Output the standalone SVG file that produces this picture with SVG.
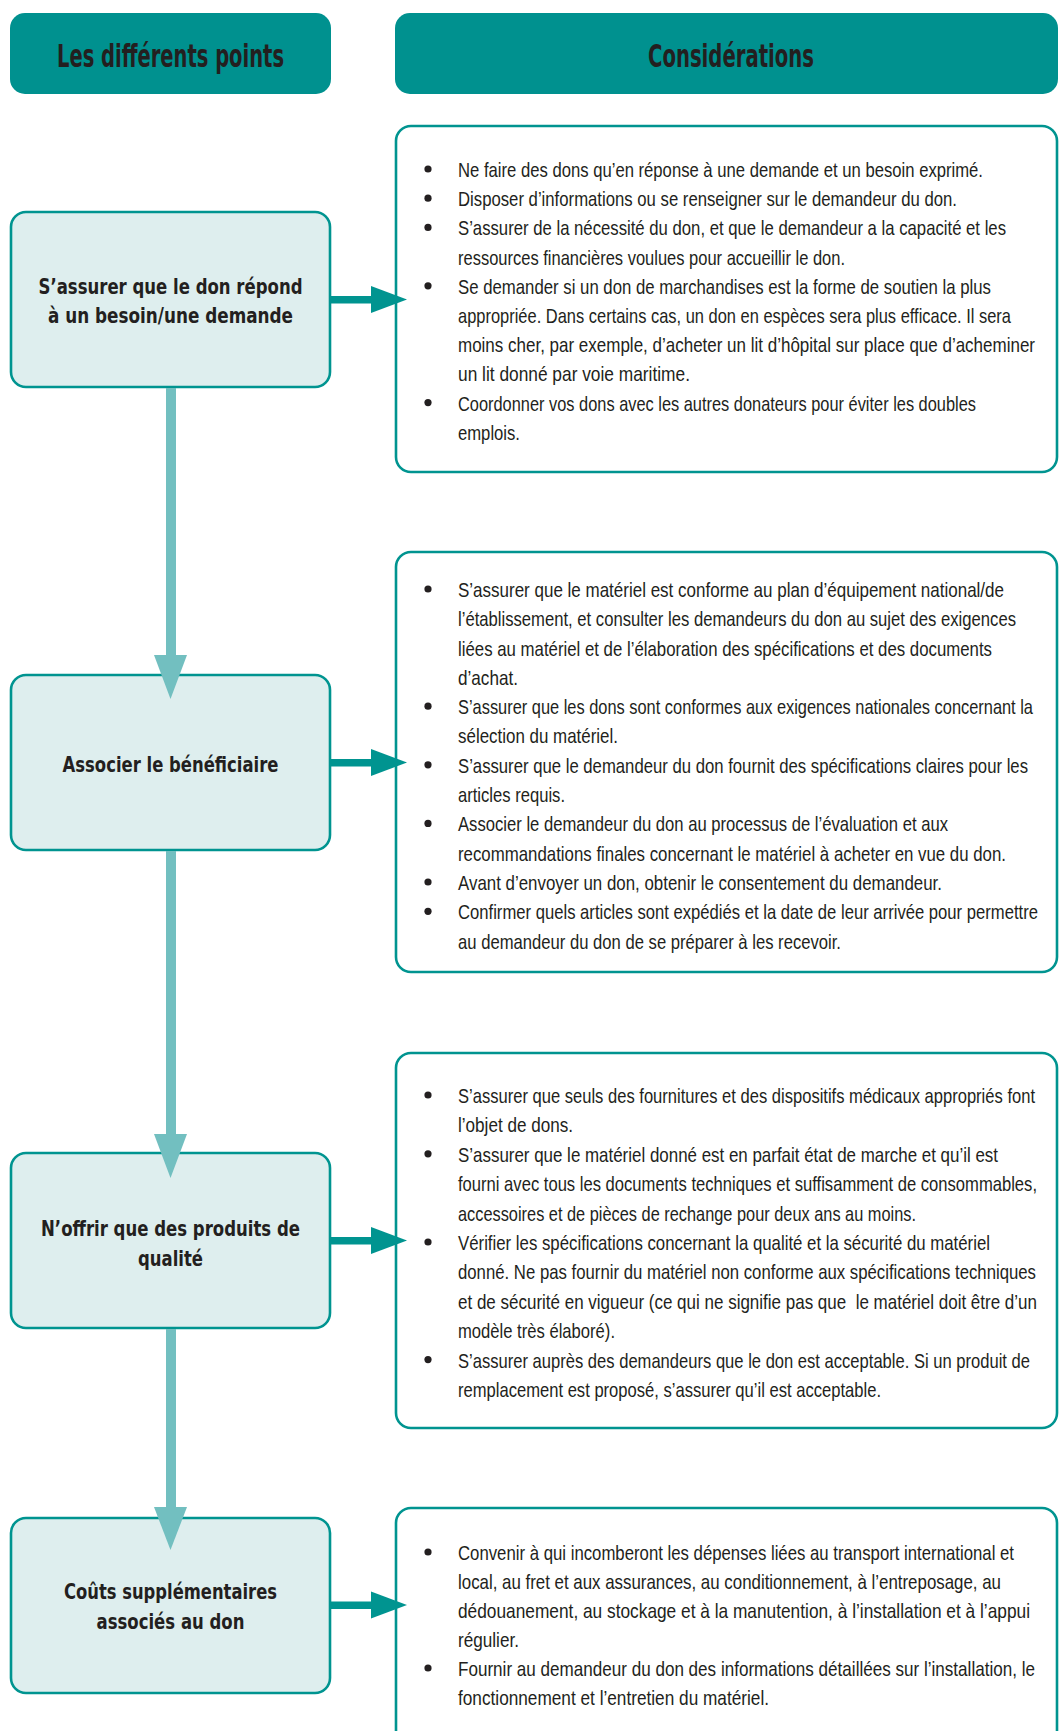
<svg xmlns="http://www.w3.org/2000/svg" width="1059" height="1731" viewBox="0 0 1059 1731">
  <style>
    .hdr { fill: #00918f; }
    .hdr-txt { font-family: "DejaVu Sans Condensed", "Liberation Sans", Arial, sans-serif; font-stretch: condensed; font-weight: bold; font-size: 32px; fill: #231f20; text-anchor: middle; }
    .step { fill: #deeeee; stroke: #009490; stroke-width: 2.6; }
    .step-txt { font-family: "DejaVu Sans Condensed", "Liberation Sans", Arial, sans-serif; font-stretch: condensed; font-weight: bold; font-size: 22px; fill: #231f20; text-anchor: middle; }
    .panel { fill: #ffffff; stroke: #009490; stroke-width: 2.6; }
    .body { font-family: "Liberation Sans", Arial, sans-serif; font-size: 20.5px; fill: #231f20; }
    .dot { fill: #231f20; }
    .down { fill: #72bfc0; }
    .right { fill: #009490; }
  </style>

  <!-- Column headers (labels narrowed horizontally around their centre) -->
  <g id="header-points">
    <rect class="hdr" x="10" y="13" width="321" height="81" rx="15"/>
    <g transform="matrix(0.7 0 0 1 51.15 0)">
      <text class="hdr-txt" x="170.5" y="67" textLength="324.29" lengthAdjust="spacingAndGlyphs">Les différents points</text>
    </g>
  </g>
  <g id="header-considerations">
    <rect class="hdr" x="395" y="13" width="663" height="81" rx="15"/>
    <g transform="matrix(0.7 0 0 1 219.3 0)">
      <text class="hdr-txt" x="731" y="67" textLength="237.14" lengthAdjust="spacingAndGlyphs">Considérations</text>
    </g>
  </g>

  <!-- Steps (left column) -->
  <g id="step-besoin">
    <rect class="step" x="11" y="212" width="319" height="175" rx="15"/>
    <g transform="matrix(0.7 0 0 1 51.15 0)">
      <text class="step-txt" x="170.5" y="294" textLength="377.14" lengthAdjust="spacingAndGlyphs">S’assurer que le don répond</text>
      <text class="step-txt" x="170.5" y="323" textLength="350" lengthAdjust="spacingAndGlyphs">à un besoin/une demande</text>
    </g>
  </g>
  <g id="step-beneficiaire">
    <rect class="step" x="11" y="675" width="319" height="175" rx="15"/>
    <g transform="matrix(0.7 0 0 1 51.15 0)">
      <text class="step-txt" x="170.5" y="772" textLength="308.57" lengthAdjust="spacingAndGlyphs">Associer le bénéficiaire</text>
    </g>
  </g>
  <g id="step-qualite">
    <rect class="step" x="11" y="1153" width="319" height="175" rx="15"/>
    <g transform="matrix(0.7 0 0 1 51.15 0)">
      <text class="step-txt" x="170.5" y="1236" textLength="370" lengthAdjust="spacingAndGlyphs">N’offrir que des produits de</text>
      <text class="step-txt" x="170.5" y="1266" textLength="92.86" lengthAdjust="spacingAndGlyphs">qualité</text>
    </g>
  </g>
  <g id="step-couts">
    <rect class="step" x="11" y="1518" width="319" height="175" rx="15"/>
    <g transform="matrix(0.7 0 0 1 51.15 0)">
      <text class="step-txt" x="170.5" y="1599" textLength="304.29" lengthAdjust="spacingAndGlyphs">Coûts supplémentaires</text>
      <text class="step-txt" x="170.5" y="1629" textLength="211.43" lengthAdjust="spacingAndGlyphs">associés au don</text>
    </g>
  </g>

  <!-- Considerations (right column); bullet text narrowed from its left edge x=458 -->
  <g id="panel-besoin">
    <rect class="panel" x="396" y="126" width="661" height="346" rx="15"/>
    <circle class="dot" cx="428" cy="169" r="3.6"/>
    <circle class="dot" cx="428" cy="198.2" r="3.6"/>
    <circle class="dot" cx="428" cy="227.4" r="3.6"/>
    <circle class="dot" cx="428" cy="285.8" r="3.6"/>
    <circle class="dot" cx="428" cy="402.6" r="3.6"/>
    <g transform="matrix(0.7 0 0 1 137.4 0)">
      <text class="body" x="458" y="177" textLength="750" lengthAdjust="spacingAndGlyphs">Ne faire des dons qu’en réponse à une demande et un besoin exprimé.</text>
      <text class="body" x="458" y="206.2" textLength="712.86" lengthAdjust="spacingAndGlyphs">Disposer d’informations ou se renseigner sur le demandeur du don.</text>
      <text class="body" x="458" y="235.4" textLength="782.86" lengthAdjust="spacingAndGlyphs">S’assurer de la nécessité du don, et que le demandeur a la capacité et les</text>
      <text class="body" x="458" y="264.6" textLength="552.86" lengthAdjust="spacingAndGlyphs">ressources financières voulues pour accueillir le don.</text>
      <text class="body" x="458" y="293.8" textLength="761.43" lengthAdjust="spacingAndGlyphs">Se demander si un don de marchandises est la forme de soutien la plus</text>
      <text class="body" x="458" y="323" textLength="790" lengthAdjust="spacingAndGlyphs">appropriée. Dans certains cas, un don en espèces sera plus efficace. Il sera</text>
      <text class="body" x="458" y="352.2" textLength="824.29" lengthAdjust="spacingAndGlyphs">moins cher, par exemple, d’acheter un lit d’hôpital sur place que d’acheminer</text>
      <text class="body" x="458" y="381.4" textLength="331.43" lengthAdjust="spacingAndGlyphs">un lit donné par voie maritime.</text>
      <text class="body" x="458" y="410.6" textLength="740" lengthAdjust="spacingAndGlyphs">Coordonner vos dons avec les autres donateurs pour éviter les doubles</text>
      <text class="body" x="458" y="439.8" textLength="88.57" lengthAdjust="spacingAndGlyphs">emplois.</text>
    </g>
  </g>

  <g id="panel-beneficiaire">
    <rect class="panel" x="396" y="552" width="661" height="420" rx="15"/>
    <circle class="dot" cx="428" cy="589" r="3.6"/>
    <circle class="dot" cx="428" cy="706.2" r="3.6"/>
    <circle class="dot" cx="428" cy="764.8" r="3.6"/>
    <circle class="dot" cx="428" cy="823.4" r="3.6"/>
    <circle class="dot" cx="428" cy="882" r="3.6"/>
    <circle class="dot" cx="428" cy="911.3" r="3.6"/>
    <g transform="matrix(0.7 0 0 1 137.4 0)">
      <text class="body" x="458" y="597" textLength="780" lengthAdjust="spacingAndGlyphs">S’assurer que le matériel est conforme au plan d’équipement national/de</text>
      <text class="body" x="458" y="626.3" textLength="797.14" lengthAdjust="spacingAndGlyphs">l’établissement, et consulter les demandeurs du don au sujet des exigences</text>
      <text class="body" x="458" y="655.6" textLength="762.86" lengthAdjust="spacingAndGlyphs">liées au matériel et de l’élaboration des spécifications et des documents</text>
      <text class="body" x="458" y="684.9" textLength="85.71" lengthAdjust="spacingAndGlyphs">d’achat.</text>
      <text class="body" x="458" y="714.2" textLength="821.43" lengthAdjust="spacingAndGlyphs">S’assurer que les dons sont conformes aux exigences nationales concernant la</text>
      <text class="body" x="458" y="743.5" textLength="228.57" lengthAdjust="spacingAndGlyphs">sélection du matériel.</text>
      <text class="body" x="458" y="772.8" textLength="814.29" lengthAdjust="spacingAndGlyphs">S’assurer que le demandeur du don fournit des spécifications claires pour les</text>
      <text class="body" x="458" y="802.1" textLength="152.86" lengthAdjust="spacingAndGlyphs">articles requis.</text>
      <text class="body" x="458" y="831.4" textLength="700" lengthAdjust="spacingAndGlyphs">Associer le demandeur du don au processus de l’évaluation et aux</text>
      <text class="body" x="458" y="860.7" textLength="782.86" lengthAdjust="spacingAndGlyphs">recommandations finales concernant le matériel à acheter en vue du don.</text>
      <text class="body" x="458" y="890" textLength="691.43" lengthAdjust="spacingAndGlyphs">Avant d’envoyer un don, obtenir le consentement du demandeur.</text>
      <text class="body" x="458" y="919.3" textLength="828.57" lengthAdjust="spacingAndGlyphs">Confirmer quels articles sont expédiés et la date de leur arrivée pour permettre</text>
      <text class="body" x="458" y="948.6" textLength="547.14" lengthAdjust="spacingAndGlyphs">au demandeur du don de se préparer à les recevoir.</text>
    </g>
  </g>

  <g id="panel-qualite">
    <rect class="panel" x="396" y="1053" width="661" height="375" rx="15"/>
    <circle class="dot" cx="428" cy="1095" r="3.6"/>
    <circle class="dot" cx="428" cy="1153.8" r="3.6"/>
    <circle class="dot" cx="428" cy="1242" r="3.6"/>
    <circle class="dot" cx="428" cy="1359.6" r="3.6"/>
    <g transform="matrix(0.7 0 0 1 137.4 0)">
      <text class="body" x="458" y="1103" textLength="824.29" lengthAdjust="spacingAndGlyphs">S’assurer que seuls des fournitures et des dispositifs médicaux appropriés font</text>
      <text class="body" x="458" y="1132.4" textLength="164.29" lengthAdjust="spacingAndGlyphs">l’objet de dons.</text>
      <text class="body" x="458" y="1161.8" textLength="771.43" lengthAdjust="spacingAndGlyphs">S’assurer que le matériel donné est en parfait état de marche et qu’il est</text>
      <text class="body" x="458" y="1191.2" textLength="827.14" lengthAdjust="spacingAndGlyphs">fourni avec tous les documents techniques et suffisamment de consommables,</text>
      <text class="body" x="458" y="1220.6" textLength="654.29" lengthAdjust="spacingAndGlyphs">accessoires et de pièces de rechange pour deux ans au moins.</text>
      <text class="body" x="458" y="1250" textLength="760" lengthAdjust="spacingAndGlyphs">Vérifier les spécifications concernant la qualité et la sécurité du matériel</text>
      <text class="body" x="458" y="1279.4" textLength="825.71" lengthAdjust="spacingAndGlyphs">donné. Ne pas fournir du matériel non conforme aux spécifications techniques</text>
      <text class="body" x="458" y="1308.8" textLength="827.14" lengthAdjust="spacingAndGlyphs" xml:space="preserve">et de sécurité en vigueur (ce qui ne signifie pas que  le matériel doit être d’un</text>
      <text class="body" x="458" y="1338.2" textLength="224.29" lengthAdjust="spacingAndGlyphs">modèle très élaboré).</text>
      <text class="body" x="458" y="1367.6" textLength="817.14" lengthAdjust="spacingAndGlyphs">S’assurer auprès des demandeurs que le don est acceptable. Si un produit de</text>
      <text class="body" x="458" y="1397" textLength="604.29" lengthAdjust="spacingAndGlyphs">remplacement est proposé, s’assurer qu’il est acceptable.</text>
    </g>
  </g>

  <g id="panel-couts">
    <rect class="panel" x="396" y="1508" width="661" height="260" rx="15"/>
    <circle class="dot" cx="428" cy="1552" r="3.6"/>
    <circle class="dot" cx="428" cy="1668" r="3.6"/>
    <g transform="matrix(0.7 0 0 1 137.4 0)">
      <text class="body" x="458" y="1560" textLength="794.29" lengthAdjust="spacingAndGlyphs">Convenir à qui incomberont les dépenses liées au transport international et</text>
      <text class="body" x="458" y="1589" textLength="775.71" lengthAdjust="spacingAndGlyphs">local, au fret et aux assurances, au conditionnement, à l’entreposage, au</text>
      <text class="body" x="458" y="1618" textLength="817.14" lengthAdjust="spacingAndGlyphs">dédouanement, au stockage et à la manutention, à l’installation et à l’appui</text>
      <text class="body" x="458" y="1647" textLength="87.14" lengthAdjust="spacingAndGlyphs">régulier.</text>
      <text class="body" x="458" y="1676" textLength="824.29" lengthAdjust="spacingAndGlyphs">Fournir au demandeur du don des informations détaillées sur l’installation, le</text>
      <text class="body" x="458" y="1705" textLength="444.29" lengthAdjust="spacingAndGlyphs">fonctionnement et l’entretien du matériel.</text>
    </g>
  </g>

  <!-- Connectors: light flow arrows down the steps, dark arrows to the considerations -->
  <g id="connectors">
    <rect class="down" x="166" y="388" width="10" height="268"/>
    <polygon class="down" points="154,655 187,655 170.5,699"/>
    <rect class="down" x="166" y="851" width="10" height="284"/>
    <polygon class="down" points="154,1134 187,1134 170.5,1178"/>
    <rect class="down" x="166" y="1329" width="10" height="179"/>
    <polygon class="down" points="154,1507 187,1507 170.5,1550"/>

    <rect class="right" x="331" y="296" width="41" height="7.5"/>
    <polygon class="right" points="371,286 407,299.5 371,313"/>
    <rect class="right" x="331" y="759" width="41" height="7.5"/>
    <polygon class="right" points="371,749 407,762.5 371,776"/>
    <rect class="right" x="331" y="1237" width="41" height="7.5"/>
    <polygon class="right" points="371,1227 407,1240.5 371,1254"/>
    <rect class="right" x="331" y="1601.5" width="41" height="7.5"/>
    <polygon class="right" points="371,1591.5 407,1605 371,1618.5"/>
  </g>
</svg>
